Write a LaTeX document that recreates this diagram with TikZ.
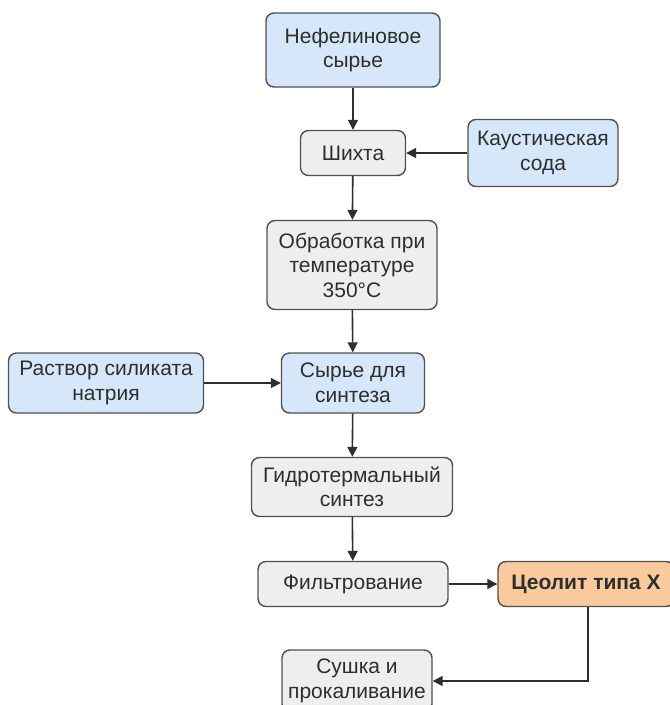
\documentclass[tikz,border=0pt]{standalone}
\usepackage{fontspec}
\setmainfont{Liberation Sans}
\usetikzlibrary{arrows.meta}
\definecolor{bluefill}{HTML}{D6E7FA}
\definecolor{greyfill}{HTML}{EEEEEE}
\definecolor{orangefill}{HTML}{F9CB9C}
\definecolor{edge}{HTML}{505050}
\definecolor{ink}{HTML}{2E2E2E}
\begin{document}
\begin{tikzpicture}[x=1pt,y=-1pt,
  box/.style={draw=edge, line width=1.4pt, rounded corners=8pt, align=center,
    inner sep=0pt, text=ink, font=\fontsize{21}{24.5}\selectfont},
  bluebox/.style={box, fill=bluefill},
  greybox/.style={box, fill=greyfill},
  orangebox/.style={box, fill=orangefill, font=\fontsize{21}{24.5}\selectfont\bfseries},
  link/.style={draw=ink, line width=1.6pt, -{Triangle[length=10pt,width=10pt]}}]
\useasboundingbox (0,0) rectangle (670,705);
\clip (0,0) rectangle (670,705);
\fill[white] (0,0) rectangle (670,705);

\node[bluebox, minimum width=174pt, minimum height=74pt] (raw) at (353,50) {Нефелиновое\\сырье};
\node[greybox, minimum width=105pt, minimum height=45pt] (charge) at (353,153) {Шихта};
\node[bluebox, minimum width=150pt, minimum height=67pt] (soda) at (543,153) {Каустическая\\сода};
\node[greybox, minimum width=170pt, minimum height=89pt] (heat) at (352,265) {Обработка при\\температуре\\350°C};
\node[bluebox, minimum width=195pt, minimum height=60pt] (silicate) at (106,383) {Раствор силиката\\натрия};
\node[bluebox, minimum width=143pt, minimum height=60pt] (feed) at (353,383) {Сырье для\\синтеза};
\node[greybox, minimum width=201pt, minimum height=59pt] (hydro) at (352,487) {Гидротермальный\\синтез};
\node[greybox, minimum width=190pt, minimum height=45pt] (filter) at (353,584) {Фильтрование};
\node[orangebox, minimum width=176pt, minimum height=45pt] (zeolite) at (586,584) {Цеолит типа X};
\node[greybox, minimum width=150pt, minimum height=62pt] (dry) at (357,681) {Сушка и\\прокаливание};

\draw[link] (raw) -- (charge);
\draw[link] (soda) -- (charge);
\draw[link] (charge) -- (heat);
\draw[link] (heat) -- (feed);
\draw[link] (silicate) -- (feed);
\draw[link] (feed) -- (hydro);
\draw[link] (hydro) -- (filter);
\draw[link] (filter) -- (zeolite);
\draw[link] (zeolite.south -| 588,0) |- (dry.east);
\end{tikzpicture}
\end{document}
